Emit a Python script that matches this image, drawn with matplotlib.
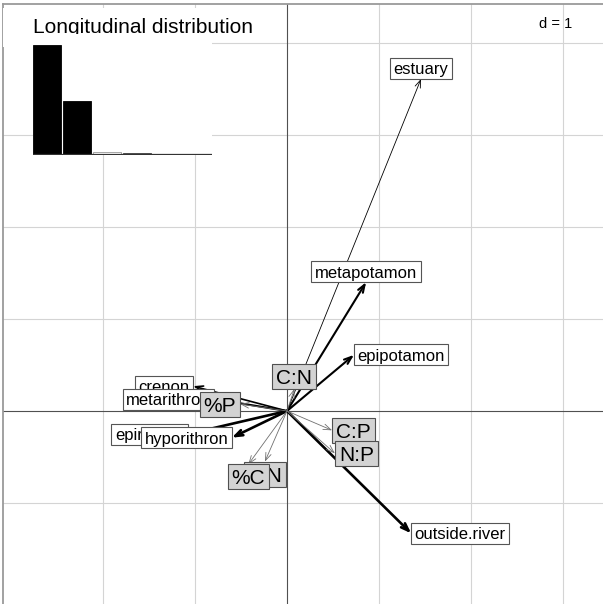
import matplotlib
matplotlib.use("Agg")
import matplotlib.pyplot as plt
from matplotlib.patches import Rectangle

plt.rcParams['font.family'] = ['Liberation Sans', 'DejaVu Sans']

# ---- data ----
zones = ["crenon", "epirithron", "metarithron", "hyporithron",
         "epipotamon", "metapotamon", "estuary", "outside.river"]
zone_x = [-1.02, -1.076, -0.79, -0.60, 0.728, 0.86, 1.457, 1.35]
zone_y = [0.27, -0.25, 0.13, -0.29, 0.61, 1.40, 3.61, -1.33]
zone_lw = [1.2, 1.9, 1.5, 1.9, 1.5, 1.5, 0.6, 1.9]

ratios = ["%N", "%C", "%P", "C:N", "C:P", "N:P"]
ratio_x = [-0.24, -0.42, -0.51, 0.08, 0.49, 0.52]
ratio_y = [-0.55, -0.58, 0.076, 0.24, -0.21, -0.46]

eig_values = [2.18, 1.06, 0.05, 0.02, 0.008, 0.004]
eig_colors = ["black", "black", "white", "#444444", "white", "white"]

title = "Longitudinal distribution"
grid_x = [-2, -1, 1, 2, 3]
grid_y = [-1, 1, 2, 3, 4]

# ---- figure ----
W, H = 603, 604
fig = plt.figure(figsize=(W / 100, H / 100), dpi=100)
ax = fig.add_axes([3 / W, 0, (W - 3) / W, (H - 4) / H])
ox, oy, sc = 287, 411, 92.0
ax.set_xlim((3 - ox) / sc, (W - ox) / sc)
ax.set_ylim(-(H - oy) / sc, (oy - 4) / sc)
ax.set_xticks([]); ax.set_yticks([])
for s in ["right", "bottom"]:
    ax.spines[s].set_visible(False)
for s in ["left", "top"]:
    ax.spines[s].set_color("#9a9a9a")
    ax.spines[s].set_linewidth(1.3)

for g in grid_x:
    ax.axvline(g, color="#d4d4d4", lw=0.8, zorder=0.5)
for g in grid_y:
    ax.axhline(g, color="#d4d4d4", lw=0.8, zorder=0.5)
ax.axvline(0, color="#505050", lw=0.8, zorder=0.6)
ax.axhline(0, color="#505050", lw=0.8, zorder=0.6)

renderer = fig.canvas.get_renderer()
inv = ax.transData.inverted()


def label(x, y, s, fs, fc, ec, z, pad, yhf):
    t = ax.text(0, 0, s, fontsize=fs, ha="center", va="baseline", zorder=z + 0.05)
    bb = t.get_window_extent(renderer)
    em = fs * 100 / 72
    xh = bb.width + pad * em
    yh = yhf * em
    px, py = ax.transData.transform((x, y))
    o0x, o0y = ax.transData.transform((0, 0))
    xr, yr = px - o0x, py - o0y
    if xr > yr and xr > -yr:
        cx, cy = px + xh / 2, py
    elif xr > yr and xr <= -yr:
        cx, cy = px, py - yh
    elif xr <= yr and xr <= -yr:
        cx, cy = px - xh / 2, py
    else:
        cx, cy = px, py + yh
    (x0, y0) = inv.transform((cx - xh / 2, cy - yh))
    (x1, y1) = inv.transform((cx + xh / 2, cy + yh))
    ax.add_patch(Rectangle((x0, y0), x1 - x0, y1 - y0, facecolor=fc,
                           edgecolor=ec, lw=0.8, zorder=z))
    tx, ty = inv.transform((cx, cy - 0.36 * em))
    t.set_position((tx, ty))


# black arrows (zones)
for x, y, lw in zip(zone_x, zone_y, zone_lw):
    ax.annotate("", xy=(x, y), xytext=(0, 0),
                arrowprops=dict(arrowstyle="->,head_length=0.55,head_width=0.2",
                                lw=lw, color="black", shrinkA=0, shrinkB=0),
                zorder=2)
z = 3
for x, y, s in zip(zone_x, zone_y, zones):
    label(x, y, s, 12, "white", "#555555", z, 0.42, 0.63)
    z += 0.1

# grey arrows (ratios)
for x, y in zip(ratio_x, ratio_y):
    ax.annotate("", xy=(x, y), xytext=(0, 0),
                arrowprops=dict(arrowstyle="->,head_length=0.55,head_width=0.2",
                                lw=0.6, color="#707070", shrinkA=0, shrinkB=0),
                zorder=5)
z = 6
for x, y, s in zip(ratio_x, ratio_y, ratios):
    label(x, y, s, 15, "#d3d3d3", "#505050", z, 0.38, 0.6)
    z += 0.1

# d = 1
fig.text(556 / W, 1 - 24 / H, "d = 1", fontsize=10.5, ha="center", va="center")

# title with white background
fig.patches.append(Rectangle((3 / W, 1 - 41 / H), 259 / W, 33 / H,
                             transform=fig.transFigure, facecolor="white",
                             edgecolor="none", zorder=2))
fig.patches.append(Rectangle((3 / W, 1 - 47 / H), 209 / W, 10 / H,
                             transform=fig.transFigure, facecolor="white",
                             edgecolor="none", zorder=2))
fig.text(33 / W, 1 - 33 / H, title, fontsize=15, ha="left", va="baseline", zorder=3)

# eigenvalue inset
iax = fig.add_axes([33 / W, 1 - 155 / H, 179 / W, 121 / H], zorder=5)
iax.set_facecolor("white")
for s in iax.spines.values():
    s.set_visible(False)
iax.set_xticks([]); iax.set_yticks([])
pos = list(range(len(eig_values)))
iax.bar(pos, eig_values, width=0.93, color=eig_colors,
        edgecolor=["black", "black", "#999999", "#444444", "#999999", "#999999"],
        linewidth=0.6)
e1 = eig_values[0]
iax.set_xlim(-0.465, 5.5)
iax.set_ylim(-e1 / 109, e1 * 120 / 109)
iax.axhline(0, color="#333333", lw=0.9)

fig.savefig("out.png", dpi=100)
